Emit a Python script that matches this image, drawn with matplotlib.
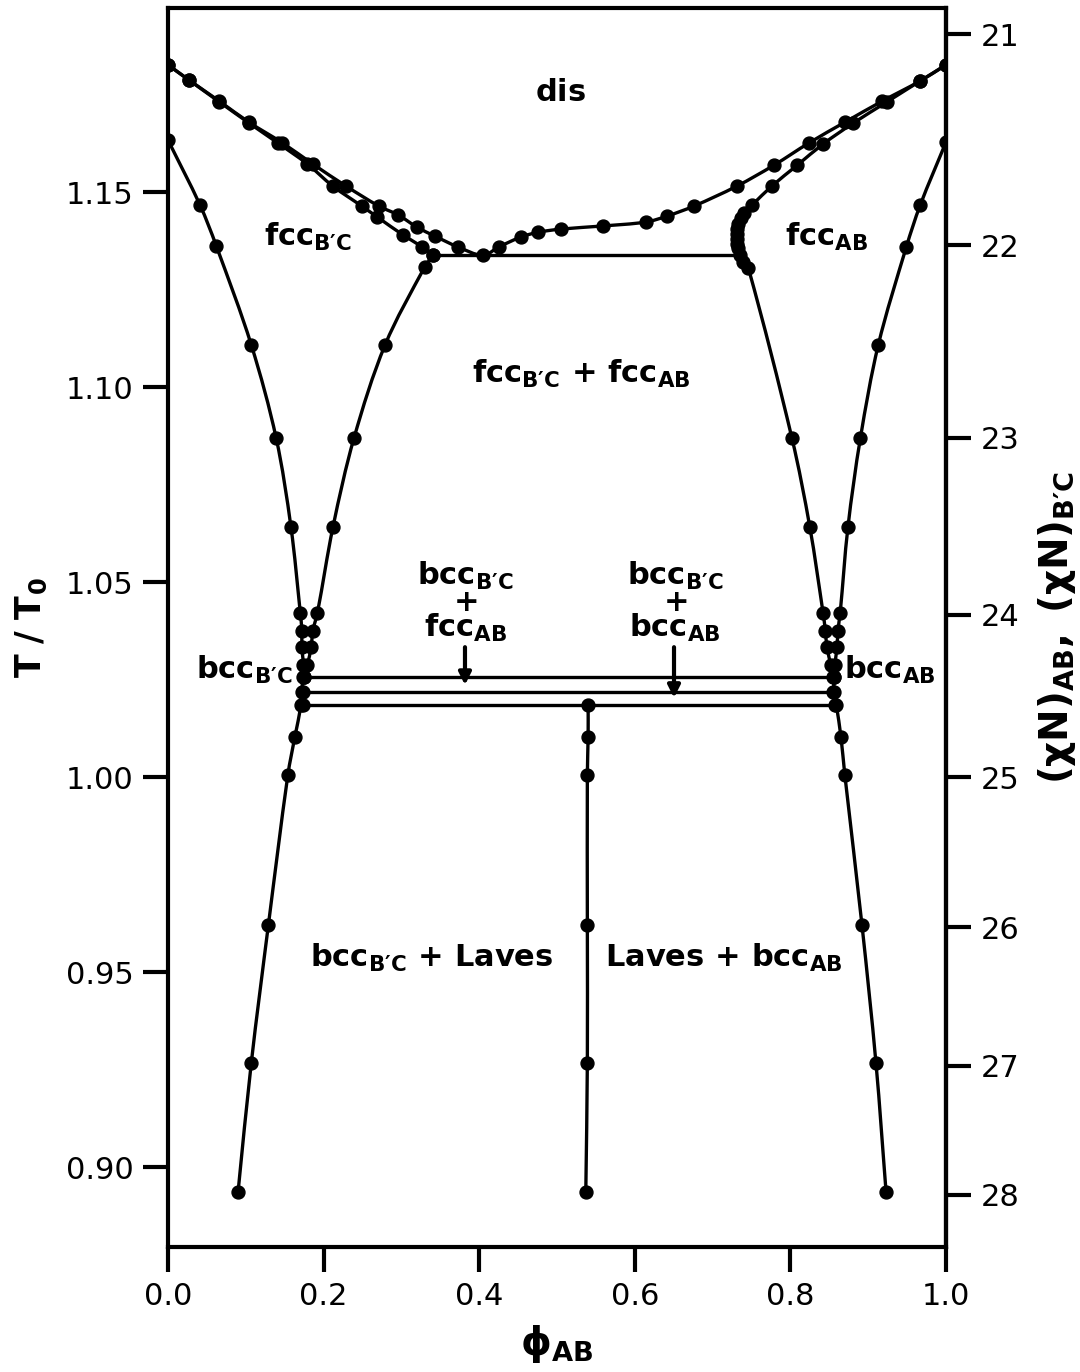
import numpy as np
import matplotlib
matplotlib.use("Agg")
import matplotlib.pyplot as plt
from matplotlib.path import Path
from matplotlib.patches import PathPatch

plt.rcParams['font.family'] = ['DejaVu Sans']
plt.rcParams['mathtext.fontset'] = 'dejavusans'

# ---- phase boundaries (phi_AB, T/T0) ----
# disorder boundary, left branch -> minimum -> right branch
dis_phi = [0.000, 0.027, 0.066, 0.104, 0.147, 0.186, 0.229, 0.271, 0.296, 0.320,
           0.343, 0.373, 0.405, 0.425, 0.454, 0.476, 0.505, 0.559, 0.614, 0.641,
           0.676, 0.731, 0.779, 0.824, 0.870, 0.918, 0.967, 1.000]
dis_T = [1.1826, 1.1787, 1.1733, 1.1679, 1.1626, 1.1572, 1.1515, 1.1464, 1.1441, 1.1410,
         1.1387, 1.1359, 1.1338, 1.1359, 1.1385, 1.1397, 1.1405, 1.1413, 1.1423, 1.1438,
         1.1464, 1.1515, 1.1569, 1.1626, 1.1679, 1.1733, 1.1785, 1.1826]

# fcc_B'C boundary: against the disordered phase, then against fcc_AB
fccL_up_phi = [0.000, 0.027, 0.066, 0.104, 0.141, 0.179, 0.212, 0.249, 0.269, 0.302,
               0.327, 0.341]
fccL_up_T = [1.1826, 1.1787, 1.1731, 1.1677, 1.1626, 1.1572, 1.1515, 1.1464, 1.1436, 1.1390,
             1.1359, 1.1338]
fccL_lo_phi = [0.341, 0.330, 0.279, 0.239, 0.212, 0.192, 0.186, 0.184, 0.179, 0.175]
fccL_lo_T = [1.1338, 1.1308, 1.1108, 1.0869, 1.0641, 1.0421, 1.0374, 1.0333, 1.0287, 1.0256]

# fcc_AB boundary
fccR_phi = [1.000, 0.967, 0.924, 0.881, 0.842, 0.809, 0.776, 0.751, 0.740, 0.736,
            0.733, 0.732, 0.731, 0.731, 0.732, 0.733, 0.735, 0.739, 0.746, 0.802,
            0.825, 0.842, 0.845, 0.847, 0.852, 0.855]
fccR_T = [1.1826, 1.1785, 1.1731, 1.1677, 1.1623, 1.1569, 1.1515, 1.1467, 1.1446, 1.1433,
          1.1418, 1.1405, 1.1392, 1.1380, 1.1368, 1.1356, 1.1338, 1.1321, 1.1305, 1.0869,
          1.0641, 1.0421, 1.0374, 1.0333, 1.0287, 1.0256]

# bcc_B'C boundary
bccL_phi = [0.000, 0.041, 0.062, 0.107, 0.139, 0.158, 0.170, 0.172, 0.172, 0.174,
            0.173, 0.172, 0.171, 0.163, 0.154, 0.129, 0.107, 0.090]
bccL_T = [1.1633, 1.1467, 1.1362, 1.1108, 1.0869, 1.0641, 1.0421, 1.0374, 1.0333, 1.0287,
          1.0256, 1.0218, 1.0185, 1.0103, 1.0005, 0.9621, 0.9267, 0.8936]

# bcc_AB boundary
bccR_phi = [1.000, 0.967, 0.949, 0.913, 0.890, 0.874, 0.864, 0.861, 0.860, 0.857,
            0.856, 0.856, 0.859, 0.865, 0.870, 0.892, 0.910, 0.923]
bccR_T = [1.1628, 1.1467, 1.1359, 1.1108, 1.0869, 1.0641, 1.0421, 1.0374, 1.0333, 1.0287,
          1.0256, 1.0218, 1.0185, 1.0103, 1.0005, 0.9621, 0.9267, 0.8936]

# Laves phase
laves_phi = [0.540, 0.540, 0.539, 0.539, 0.539, 0.537]
laves_T = [1.0185, 1.0103, 1.0005, 0.9621, 0.9267, 0.8936]

# fcc + fcc tie line
tie_T = 1.1338
tie_phi = [0.341, 0.735]

# three-phase lines
tri_T = [1.0256, 1.0218, 1.0185]
tri_left = [0.175, 0.174, 0.173]
tri_right = [0.856, 0.855, 0.857]

CHI_T = 25.0  # (chi N) = CHI_T / (T/T0)

fig = plt.figure(figsize=(10.8, 13.72), dpi=100)
ax = fig.add_axes([0.1556, 0.0911, 0.7203, 0.9031])

lw = 2.4
ms = 9.3


def smooth_path(xs, ys, aspect=5.0):
    """Cubic Bezier path through the given points (tangents from neighbours)."""
    P = np.column_stack([np.asarray(xs, float), np.asarray(ys, float) * aspect])
    n = len(P)
    tan = []
    for i in range(n):
        if i == 0:
            d = P[1] - P[0]
        elif i == n - 1:
            d = P[-1] - P[-2]
        else:
            d = P[i + 1] - P[i - 1]
        nrm = np.hypot(*d)
        tan.append(d / nrm if nrm > 0 else d)
    verts = [P[0]]
    codes = [Path.MOVETO]
    for i in range(n - 1):
        L = np.hypot(*(P[i + 1] - P[i]))
        verts += [P[i] + tan[i] * L / 3, P[i + 1] - tan[i + 1] * L / 3, P[i + 1]]
        codes += [Path.CURVE4] * 3
    verts = np.array(verts)
    verts[:, 1] /= aspect
    return Path(verts, codes)


def boundary(xs, ys):
    ax.add_patch(PathPatch(smooth_path(xs, ys), fill=False, ec='black', lw=lw,
                           capstyle='round', joinstyle='round'))
    ax.plot(xs, ys, ls='none', marker='o', ms=ms, color='black')


boundary(dis_phi, dis_T)
boundary(fccL_up_phi, fccL_up_T)
boundary(fccL_lo_phi, fccL_lo_T)
boundary(fccR_phi, fccR_T)
boundary(bccL_phi, bccL_T)
boundary(bccR_phi, bccR_T)
boundary(laves_phi, laves_T)
ax.plot(tie_phi, [tie_T, tie_T], color='black', lw=lw)
for t, a, b in zip(tri_T, tri_left, tri_right):
    ax.plot([a, b], [t, t], color='black', lw=lw, marker='o', ms=ms)

ax.set_xlim(0, 1)
ax.set_ylim(0.8795, 1.1972)
ax.set_xticks([0.0, 0.2, 0.4, 0.6, 0.8, 1.0])
ax.set_yticks([0.90, 0.95, 1.00, 1.05, 1.10, 1.15])
ax.set_yticklabels(['0.90', '0.95', '1.00', '1.05', '1.10', '1.15'])

for s in ax.spines.values():
    s.set_linewidth(3)
ax.tick_params(direction='out', length=18, width=3, labelsize=22, pad=7)

ax.set_xlabel(r'$\mathbf{ϕ_{AB}}$', fontsize=28, labelpad=9)
ax.set_ylabel(r'$\mathbf{T\ /\ T_0}$', fontsize=25, labelpad=12)

sec = ax.secondary_yaxis('right', functions=(lambda t: CHI_T / t, lambda c: CHI_T / c))
sec.set_yticks([21, 22, 23, 24, 25, 26, 27, 28])
sec.tick_params(direction='out', length=18, width=3, labelsize=22, pad=7)
sec.spines['right'].set_linewidth(3)
sec.set_ylabel(r'$\mathbf{(χN)_{AB},\ (χN)_{B′C}}$', fontsize=28, labelpad=12)

fs = 22


def lab(x, y, s, va='center', size=fs, **kw):
    ax.text(x, y, s, fontsize=size, ha='center', va=va, **kw)


BC = r'_{\mathbf{B′C}}'
AB = r'_{\mathbf{AB}}'
lab(0.505, 1.1756, r'$\mathbf{dis}$')
lab(0.180, 1.1385, r'$\mathbf{fcc}' + BC + '$')
lab(0.847, 1.1385, r'$\mathbf{fcc}' + AB + '$')
lab(0.531, 1.1033, r'$\mathbf{fcc}' + BC + r'\mathbf{\,+\,fcc}' + AB + '$')
lab(0.098, 1.0274, r'$\mathbf{bcc}' + BC + '$')
lab(0.928, 1.0274, r'$\mathbf{bcc}' + AB + '$')
lab(0.339, 0.9536, r'$\mathbf{bcc}' + BC + r'\mathbf{\,+\,Laves}$')
lab(0.715, 0.9536, r'$\mathbf{Laves\,+\,bcc}' + AB + '$')

# stacked labels with arrows into the three-phase region
for xc, bottom in [(0.382, 'fcc'), (0.652, 'bcc')]:
    stacked = ('$\\mathbf{bcc}' + BC + '$\n$\\mathbf{+}$\n$\\mathbf{' + bottom + '}' + AB + '$')
    lab(xc, 1.0449, stacked, linespacing=0.8, multialignment='center')

for xa, ytip in [(0.3817, 1.0236), (0.6504, 1.0203)]:
    ax.annotate('', xy=(xa, ytip), xytext=(xa, 1.0333),
                arrowprops=dict(arrowstyle='-|>', lw=3, color='black', mutation_scale=18,
                                shrinkA=0, shrinkB=0))

fig.savefig('out.png', dpi=100)
